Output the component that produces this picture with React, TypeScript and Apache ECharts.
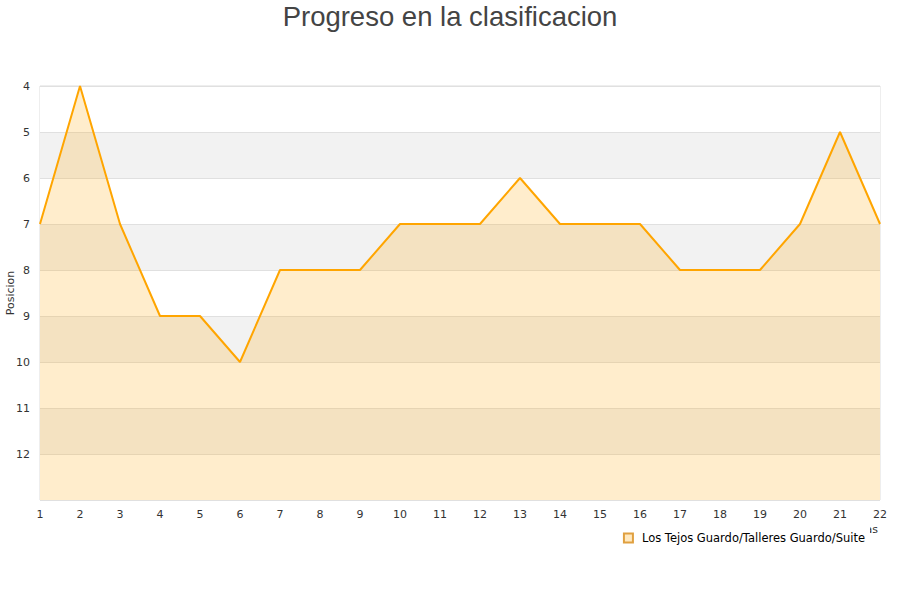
import React, { useEffect, useRef } from "react";
import * as echarts from "echarts";

const jornadas = ["1","2","3","4","5","6","7","8","9","10","11","12","13","14","15","16","17","18","19","20","21","22"];
const posiciones = [7, 4, 7, 9, 9, 10, 8, 8, 8, 7, 7, 7, 6, 7, 7, 7, 8, 8, 8, 7, 5, 7];
const seriesName = "Los Tejos Guardo/Talleres Guardo/Suite";
const titleText = "Progreso en la clasificacion";

export default function App() {
  const ref = useRef<HTMLDivElement>(null);
  useEffect(() => {
    const chart = echarts.init(ref.current!, null, { renderer: "svg" });
    chart.setOption({
      animation: false,
      backgroundColor: "#fff",
      title: {
        text: titleText,
        left: "center",
        top: -3,
        textStyle: { fontFamily: "Liberation Sans", fontSize: 27.5, fontWeight: "normal", color: "#444" },
      },
      grid: {
        left: 40, right: 20, top: 86, bottom: 100,
        show: true, borderColor: "#ddd", borderWidth: 1,
        containLabel: false, outerBoundsMode: "none",
      },
      legend: {
        data: [{ name: seriesName, icon: "rect" }],
        right: 30,
        top: 523,
        itemWidth: 9,
        itemHeight: 9,
        backgroundColor: "#fff",
        padding: [9, 5, 8, 5],
        z: 10,
        textStyle: { fontFamily: "DejaVu Sans", fontSize: 11.5, color: "#000", padding: [0, 0, 0, 4] },
      },
      xAxis: {
        type: "category",
        data: jornadas,
        boundaryGap: false,
        name: "Jornadas",
        nameLocation: "end",
        nameGap: 0,
        nameMoveOverlap: false,
        nameTextStyle: { fontFamily: "DejaVu Sans", fontSize: 11, color: "#333", align: "right", verticalAlign: "top", padding: [24, 2, 0, 0] },
        axisLine: { show: false },
        axisTick: { show: false },
        axisLabel: { fontFamily: "DejaVu Sans", fontSize: 11, color: "#333", margin: 9 },
        splitLine: { show: false },
      },
      yAxis: {
        type: "value",
        inverse: true,
        min: 4,
        max: 13,
        interval: 1,
        name: "Posicion",
        nameLocation: "middle",
        nameGap: 24,
        nameMoveOverlap: false,
        nameTextStyle: { fontFamily: "DejaVu Sans", fontSize: 11, color: "#333" },
        axisLine: { show: false },
        axisTick: { show: false },
        axisLabel: {
          fontFamily: "DejaVu Sans",
          fontSize: 11,
          color: "#333",
          margin: 10,
          formatter: (v: number) => (v === 13 ? "" : String(v)),
        },
        splitLine: { show: true, lineStyle: { color: "#e0e0e0", width: 1 } },
        splitArea: { show: true, areaStyle: { color: ["#ffffff", "#f2f2f2"], opacity: 1 } },
      },
      series: [
        {
          name: seriesName,
          type: "line",
          data: posiciones,
          symbol: "none",
          lineStyle: { color: "#ffa500", width: 2 },
          itemStyle: { color: "#ffe9c0", borderColor: "#e0a040", borderWidth: 1 },
          areaStyle: { color: "rgba(255,165,0,0.2)", opacity: 1, origin: "end" },
        },
      ],
    });
    return () => chart.dispose();
  }, []);
  return <div ref={ref} style={{ width: 900, height: 600, position: "absolute", left: 0, top: 0 }} />;
}
